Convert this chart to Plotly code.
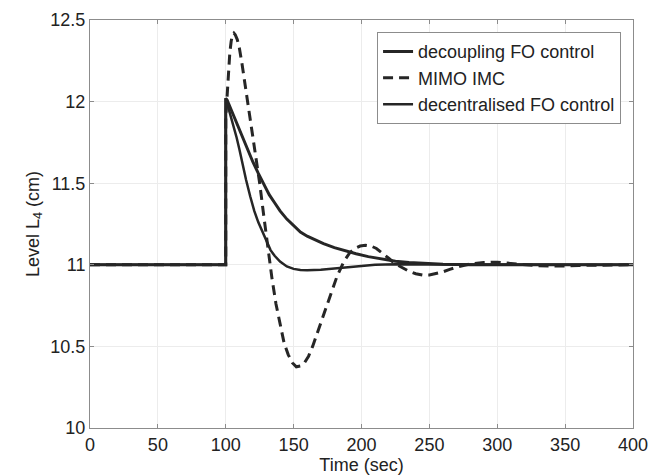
import plotly.graph_objects as go

# decoupling FO control (slower solid)
t_dec = [0, 100, 100, 101, 102, 104, 106, 108, 110, 113, 116, 120, 124, 128, 132, 136, 140, 145, 150, 155,
         160, 166, 172, 180, 188, 196, 205, 215, 225, 235, 245, 260, 280, 300, 400]
y_dec = [11.0, 11.0, 12.02, 12.01, 11.99, 11.95, 11.9, 11.86, 11.82, 11.76, 11.7, 11.63, 11.56, 11.49, 11.43,
         11.38, 11.33, 11.28, 11.24, 11.2, 11.175, 11.15, 11.13, 11.105, 11.085, 11.068, 11.05, 11.035, 11.022,
         11.014, 11.008, 11.003, 11.0, 11.0, 11.0]

# MIMO IMC (dashed)
t_imc = [0, 100, 100, 101, 102, 103, 104, 105, 106, 107, 108.5, 110, 112, 114, 116, 118, 120, 122.5, 125, 128,
         131, 134, 137, 140, 143, 146, 149, 152, 155, 158, 161, 164, 167, 170, 174, 178, 182, 187, 191, 195, 199,
         203, 207, 211, 215, 220, 225, 230, 235, 240, 245, 250, 255, 260, 265, 270, 280, 290, 300, 310, 320, 330,
         345, 360, 400]
y_imc = [11.0, 11.0, 11.9, 12.05, 12.18, 12.3, 12.37, 12.41, 12.42, 12.41, 12.38, 12.33, 12.23, 12.12, 12.0,
         11.89, 11.78, 11.64, 11.5, 11.3, 11.1, 10.92, 10.76, 10.63, 10.52, 10.45, 10.4, 10.375, 10.38, 10.4,
         10.44, 10.5, 10.57, 10.64, 10.74, 10.84, 10.93, 11.02, 11.07, 11.1, 11.115, 11.12, 11.115, 11.1, 11.075,
         11.04, 11.005, 10.98, 10.96, 10.945, 10.937, 10.937, 10.945, 10.957, 10.972, 10.985, 11.005, 11.014,
         11.016, 11.01, 11.0, 10.994, 10.992, 10.996, 11.0]

# decentralised FO control (faster solid)
t_dcn = [0, 100, 100, 101, 102, 104, 106, 108, 110, 112, 115, 118, 121, 124, 127, 130, 133, 136, 140, 145,
         150, 155, 160, 170, 180, 190, 200, 210, 225, 250, 300, 400]
y_dcn = [11.0, 11.0, 12.02, 12.0, 11.96, 11.9, 11.85, 11.78, 11.71, 11.63, 11.52, 11.42, 11.33, 11.26, 11.2,
         11.14, 11.09, 11.055, 11.02, 10.99, 10.975, 10.968, 10.966, 10.97, 10.978, 10.987, 10.995, 11.0,
         11.003, 11.002, 11.0, 11.0]

x_ticks = [0, 50, 100, 150, 200, 250, 300, 350, 400]
y_ticks = [10, 10.5, 11, 11.5, 12, 12.5]
y_tick_text = ["10", "10.5", "11", "11.5", "12", "12.5"]

line_col = "#262626"

fig = go.Figure()
fig.add_trace(go.Scatter(x=t_dec, y=y_dec, mode="lines", name="decoupling FO control",
                         line=dict(color=line_col, width=3)))
fig.add_trace(go.Scatter(x=t_imc, y=y_imc, mode="lines", name="MIMO IMC",
                         line=dict(color=line_col, width=3, dash="10px,6px")))
fig.add_trace(go.Scatter(x=t_dcn, y=y_dcn, mode="lines", name="decentralised FO control",
                         line=dict(color=line_col, width=2.5)))

font_col = "#222222"
axis_common = dict(
    showline=True, linecolor="#8c8c8c", linewidth=1, mirror="ticks",
    ticks="inside", ticklen=4, tickcolor="#8c8c8c",
    showgrid=True, gridcolor="#ececec", gridwidth=1,
    zeroline=False, automargin=False,
    tickfont=dict(family="Liberation Sans, Arial", size=18, color=font_col),
)

fig.update_layout(
    width=651, height=475,
    margin=dict(l=90, r=18, t=20, b=47),
    paper_bgcolor="white", plot_bgcolor="white",
    font=dict(family="Liberation Sans, Arial", size=18, color=font_col),
    showlegend=True,
    legend=dict(x=0.978, y=0.97, xanchor="right", yanchor="top",
                bgcolor="white", bordercolor="#8c8c8c", borderwidth=1,
                font=dict(size=18, color=font_col),
                tracegroupgap=0, itemwidth=30),
    xaxis=dict(range=[0, 400], tickvals=x_ticks,
               title=dict(text="Time (sec)", standoff=2, font=dict(size=18)),
               **axis_common),
    yaxis=dict(range=[10, 12.5], tickvals=y_ticks, ticktext=y_tick_text,
               title=dict(text="Level L<sub>4</sub> (cm)", standoff=6, font=dict(size=18)),
               **axis_common),
)

fig.write_html("out.html")
